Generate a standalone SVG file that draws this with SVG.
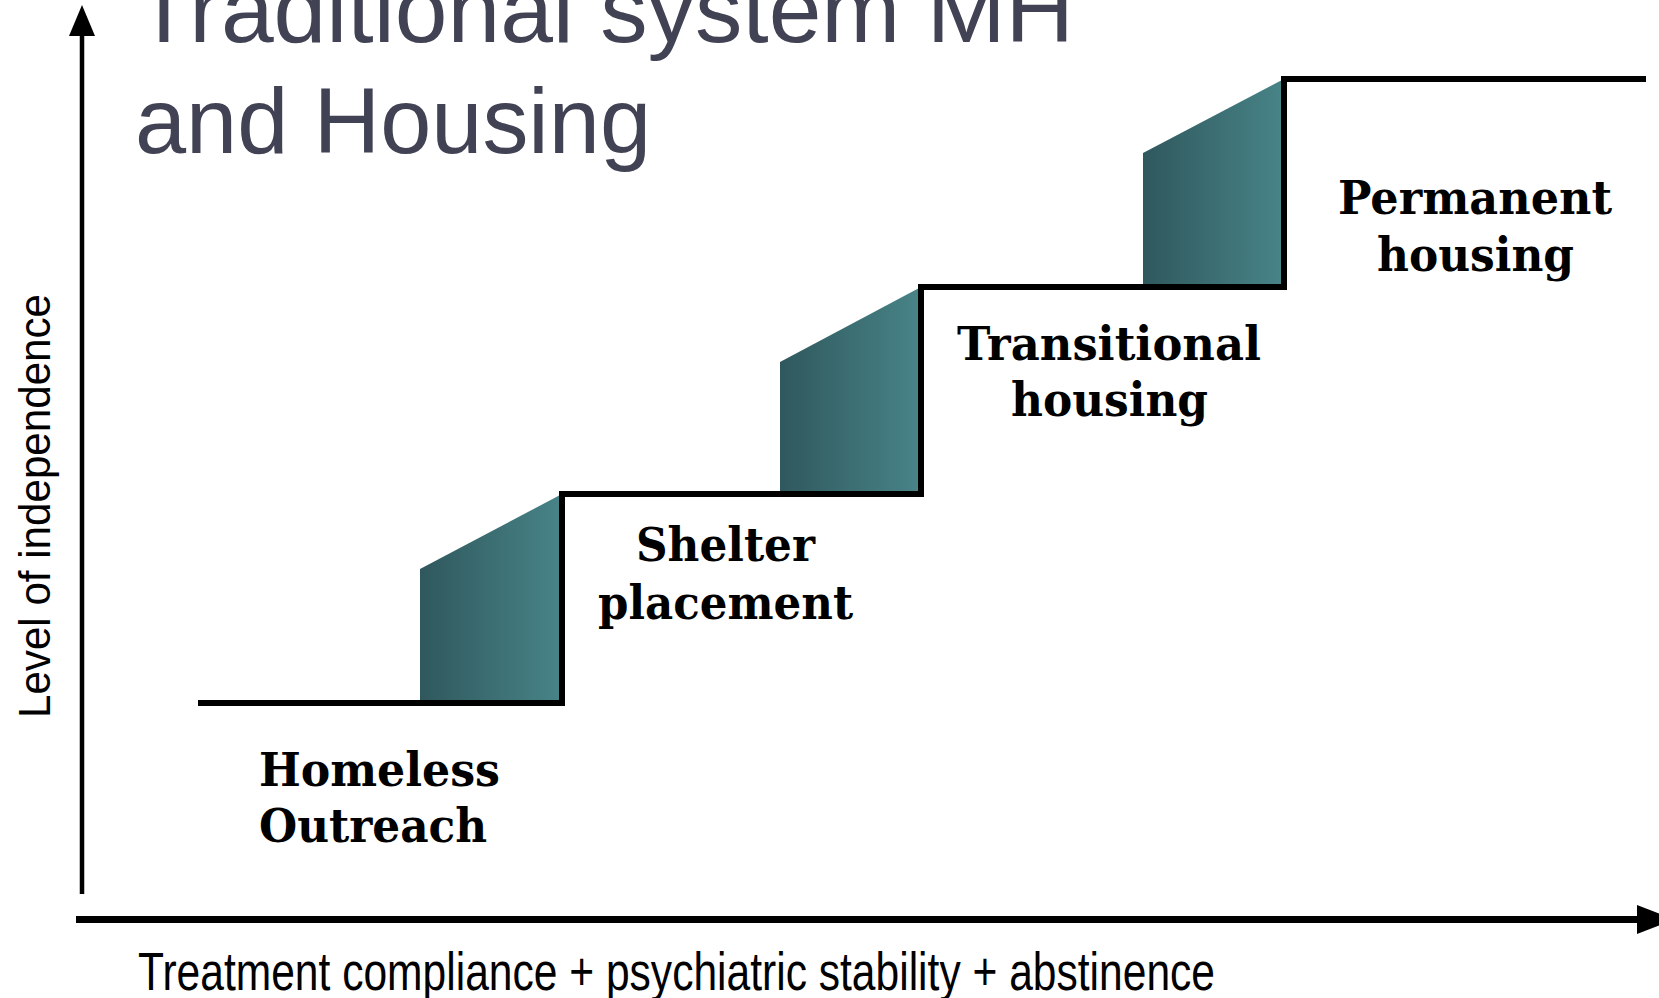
<svg xmlns="http://www.w3.org/2000/svg" width="1659" height="998" viewBox="0 0 1659 998">
  <defs>
    <linearGradient id="riser" x1="0" y1="0" x2="1" y2="0">
      <stop offset="0" stop-color="#2f585d"/>
      <stop offset="1" stop-color="#488488"/>
    </linearGradient>
    <style>
      .title { font-family: "Liberation Sans", Arial, sans-serif; font-size: 92px; fill: #414254; }
      .axis-label { font-family: "Liberation Sans", Arial, sans-serif; fill: #000; }
      .stage { font-family: "DejaVu Serif", "Liberation Serif", serif; font-weight: bold; font-size: 46px; fill: #000; }
      .step { fill: none; stroke: #000; stroke-width: 6; stroke-linejoin: miter; }
      .riser { fill: url(#riser); }
    </style>
  </defs>

  <rect width="1659" height="998" fill="#fff"/>

  <!-- title (first line runs off the top edge) -->
  <g id="title">
    <text class="title" x="135" y="42" textLength="939" lengthAdjust="spacingAndGlyphs">Traditional system MH</text>
    <text class="title" x="135" y="153" textLength="516" lengthAdjust="spacingAndGlyphs">and Housing</text>
  </g>

  <!-- axes -->
  <g id="axes">
    <line x1="82" y1="894" x2="82" y2="34" stroke="#000" stroke-width="4.5"/>
    <polygon points="82,5 69,36 95,36" fill="#000"/>
    <line x1="76" y1="919.5" x2="1640" y2="919.5" stroke="#000" stroke-width="7"/>
    <polygon points="1674,919.5 1637,905 1637,934" fill="#000"/>
    <text class="axis-label" x="138" y="990" font-size="53" textLength="1077" lengthAdjust="spacingAndGlyphs">Treatment compliance + psychiatric stability + abstinence</text>
    <text class="axis-label" font-size="45" transform="translate(50,718) rotate(-90)" textLength="424" lengthAdjust="spacingAndGlyphs">Level of independence</text>
  </g>

  <!-- staircase -->
  <g id="connectors">
    <polygon class="riser" points="420,569 562,494 562,703 420,703"/>
    <polygon class="riser" points="780,362 921,287 921,494 780,494"/>
    <polygon class="riser" points="1143,153 1284,79 1284,287 1143,287"/>
    <polyline class="step" points="198,703 562,703 562,494 921,494 921,287 1284,287 1284,79 1646,79"/>
  </g>

  <!-- stage labels -->
  <g id="homeless-outreach">
    <text class="stage" x="259" y="786" textLength="241" lengthAdjust="spacingAndGlyphs">Homeless</text>
    <text class="stage" x="259" y="842" textLength="228" lengthAdjust="spacingAndGlyphs">Outreach</text>
  </g>
  <g id="shelter-placement">
    <text class="stage" x="636" y="561" textLength="179" lengthAdjust="spacingAndGlyphs">Shelter</text>
    <text class="stage" x="598" y="619" textLength="255" lengthAdjust="spacingAndGlyphs">placement</text>
  </g>
  <g id="transitional-housing">
    <text class="stage" x="957" y="360" textLength="304" lengthAdjust="spacingAndGlyphs">Transitional</text>
    <text class="stage" x="1011" y="416" textLength="197" lengthAdjust="spacingAndGlyphs">housing</text>
  </g>
  <g id="permanent-housing">
    <text class="stage" x="1338" y="214" textLength="274" lengthAdjust="spacingAndGlyphs">Permanent</text>
    <text class="stage" x="1377" y="271" textLength="197" lengthAdjust="spacingAndGlyphs">housing</text>
  </g>
</svg>
